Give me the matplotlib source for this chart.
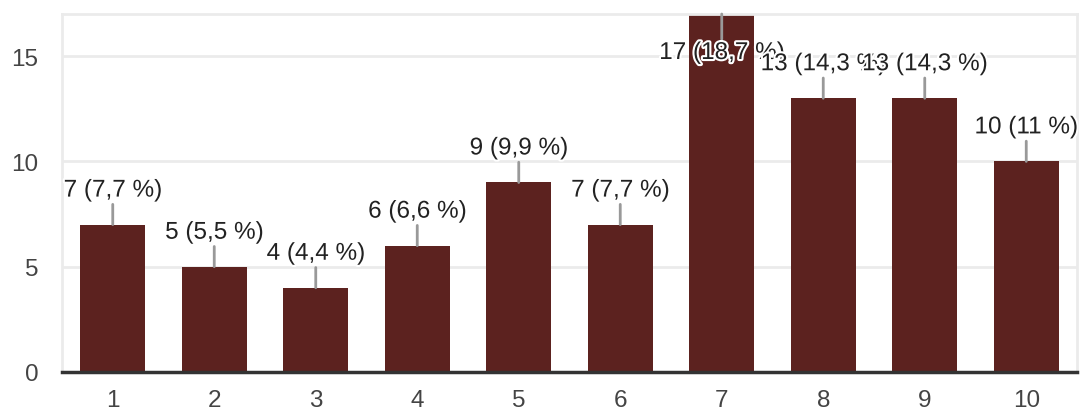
import matplotlib.pyplot as plt
import matplotlib.patheffects as pe

# notas 1..10 e respostas
categorias = ['1', '2', '3', '4', '5', '6', '7', '8', '9', '10']
respostas = [7, 5, 4, 6, 9, 7, 17, 13, 13, 10]
rotulos = ['7 (7,7 %)', '5 (5,5 %)', '4 (4,4 %)', '6 (6,6 %)', '9 (9,9 %)',
           '7 (7,7 %)', '17 (18,7 %)', '13 (14,3 %)', '13 (14,3 %)', '10 (11 %)']

plt.rcParams['font.family'] = ['Liberation Sans', 'DejaVu Sans']

fig = plt.figure(figsize=(10.8, 4.1), dpi=100)
ax = fig.add_axes([62 / 1080, 37 / 410, 1015 / 1080, 358 / 410])

x = list(range(1, len(categorias) + 1))
ax.bar(x, respostas, width=0.64, color='#5c221f', zorder=2)

ax.set_xlim(0.5, len(categorias) + 0.5)
ax.set_ylim(0, 17)
ax.set_yticks([0, 5, 10, 15])
ax.set_xticks(x)
ax.set_xticklabels(categorias)
ax.grid(axis='y', color='#ebebeb', linewidth=2, zorder=0)
ax.tick_params(length=0, labelsize=17.5, colors='#444444')
ax.tick_params(axis='x', pad=12)
ax.tick_params(axis='y', pad=17)

for lado in ['left', 'top', 'right']:
    ax.spines[lado].set_color('#ebebeb')
    ax.spines[lado].set_linewidth(2)
ax.spines['bottom'].set_color('#333333')
ax.spines['bottom'].set_linewidth(2.5)
ax.spines['bottom'].set_zorder(5)

# rótulos com linha guia
halo = [pe.withStroke(linewidth=3, foreground='white')]
for xi, v, txt in zip(x, respostas, rotulos):
    if v + 2.5 > ax.get_ylim()[1]:
        dy, va = -28, 'top'
    else:
        dy, va = 23, 'bottom'
    ax.annotate(txt, xy=(xi, v), xytext=(0, dy), textcoords='offset pixels',
                ha='center', va=va, fontsize=17.5, color='#222222',
                path_effects=halo, zorder=4,
                arrowprops=dict(arrowstyle='-', color='#999999', lw=2,
                                shrinkA=0, shrinkB=0))

fig.savefig('out.png', dpi=100)
